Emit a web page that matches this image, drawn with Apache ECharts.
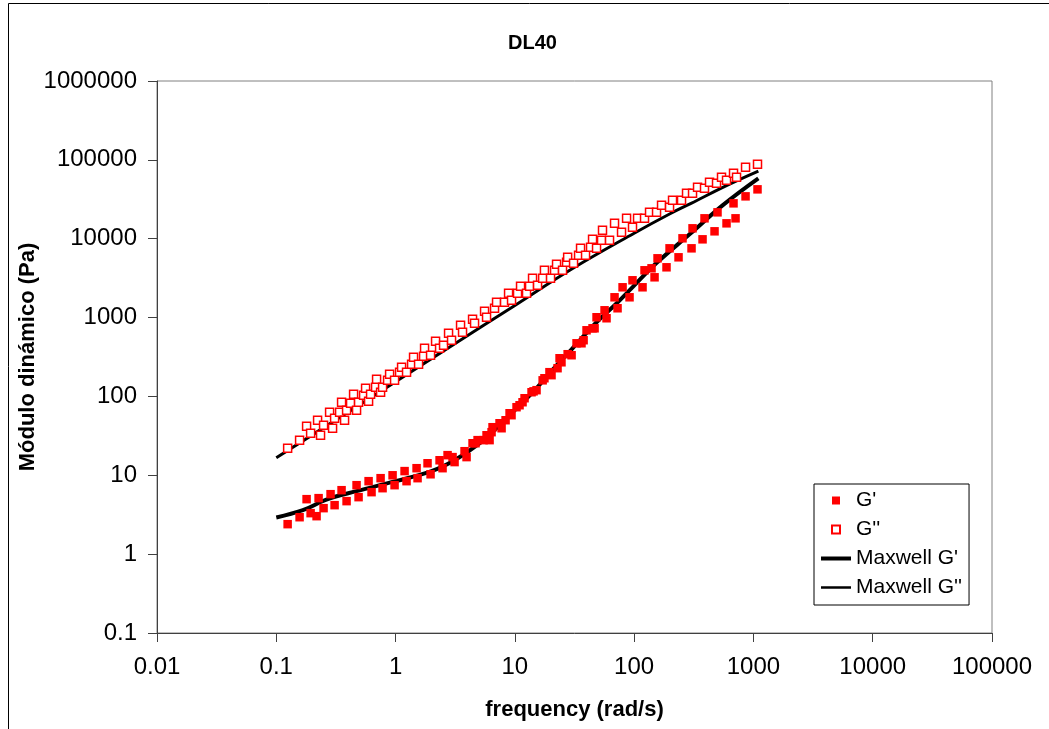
<!DOCTYPE html>
<html>
<head>
<meta charset="utf-8">
<script src="https://cdn.jsdelivr.net/npm/echarts@6/dist/echarts.min.js"></script>
<style>
  html, body { margin: 0; padding: 0; background: #ffffff; }
  #chart { width: 1049px; height: 729px; }
</style>
</head>
<body>
<div id="chart"></div>
<script>
// Storage modulus G' (rad/s, Pa)
const gPrime = [
  [0.1245,2.40],[0.1568,2.94],[0.1795,4.98],[0.194,3.31],[0.2177,3.03],[0.2263,5.13],
  [0.2491,3.83],[0.2851,5.76],[0.3082,4.18],[0.3526,6.47],[0.3884,4.70],[0.471,7.49],
  [0.4896,5.28],[0.594,8.42],[0.629,6.11],[0.749,9.19],[0.778,6.86],[0.944,10.0],
  [0.981,7.49],[1.19,11.3],[1.236,8.42],[1.50,12.3],[1.529,9.19],[1.854,14.2],
  [1.965,10.3],[2.338,15.5],[2.477,12.3],[2.729,18.0],[3.004,17.0],[3.123,14.7],
  [3.787,20.2],[3.937,17.0],[4.42,25.5],[4.68,25.5],[4.87,27.9],[5.47,27.9],
  [5.79,32.2],[6.14,27.9],[6.38,35.2],[6.50,40.7],[7.44,45.7],[7.74,39.5],
  [8.36,49.9],[9.03,61.2],[9.38,57.8],[10.33,73.0],[10.95,77.3],[11.6,84.4],
  [12.06,94.9],[13.8,113],[14.35,116],[15.2,120],[17.1,160],[17.7,170],
  [19.5,203],[20.3,186],[22.8,228],[23.7,305],[24.6,271],[27.7,343],
  [29.9,333],[32.9,472],[36.2,472],[37.7,516],[39.9,690],[44.8,731],
  [46.6,731],[48.4,1009],[56.5,1237],[58.7,980],[68.5,1808],[72.6,1312],
  [80.0,2421],[91.5,1808],[96.9,2970],[117.6,2421],[122.2,3977],[139.9,4214],
  [148.3,3241],[157.1,5642],[186.8,4340],[198.1,7552],[235.6,5810],[254.4,10116],
  [302.8,7552],[308.7,13545],[374.5,9824],[389,18137],[472,12410],[500,21600],
  [595,15670],[681,28090],[708,18137],[859,34450],[1082,42270]
];

// Loss modulus G'' (rad/s, Pa)
const gDoublePrime = [
  [0.1245,22.1],[0.1568,27.9],[0.1795,41.9],[0.194,34.2],[0.2219,49.9],[0.235,32.2],
  [0.2491,43.2],[0.2798,63.1],[0.2964,39.5],[0.3082,52.9],[0.3394,63.1],[0.3526,84.4],
  [0.3737,49.9],[0.3884,66.8],[0.4195,82.0],[0.4446,106.6],[0.471,66.8],[0.4896,84.4],
  [0.5393,103.6],[0.5605,127],[0.594,86.9],[0.6173,106.6],[0.6797,130.8],[0.693,165.2],
  [0.749,113],[0.778,130.8],[0.857,160.4],[0.891,191],[0.981,160.4],[1.080,202.6],
  [1.123,234.5],[1.236,202.6],[1.362,255.9],[1.415,314],[1.559,255.9],[1.717,323],
  [1.750,408],[1.965,333],[2.164,501],[2.338,408],[2.525,446],[2.781,632],
  [2.947,516],[3.506,799],[3.643,651],[4.42,952],[4.594,847],[5.572,1202],
  [5.79,1009],[6.758,1312],[7.023,1562],[8.196,1562],[8.856,2032],[9.38,1656],
  [10.53,2032],[11.16,2493],[12.53,2032],[13.28,2493],[14.07,3148],[15.50,2567],
  [17.1,3148],[17.7,3977],[19.92,3148],[21.51,3977],[22.36,4738],[25.10,3977],
  [27.13,5021],[27.7,5810],[31.05,4877],[34.2,6160],[35.54,7552],[39.14,6160],
  [43.1,7780],[44.8,9824],[48.4,7552],[53.3,9541],[54.3,12780],[62.2,9541],
  [68.5,15670],[78.4,12050],[86.4,18137],[96.9,13950],[106.8,18137],[122.2,18137],
  [134.6,21600],[154.1,21600],[169.7,26500],[198.1,25000],[209.8,30670],[249.6,30670],
  [274.9,37610],[308.7,37610],[340,44810],[389,43520],[428.5,51840],[490.5,50370],
  [540.1,60000],[595,54980],[681,67430],[721.8,60000],[859,80300],[1082,87690]
];

// Maxwell model fits
const maxwellGPrime = [
  [0.1,2.92],[0.167,3.61],[0.263,4.91],[0.471,6.29],[1,8.42],[2,11.27],
  [3.12,15.5],[4.95,24.8],[7.0,39.5],[9.96,66.8],[14.9,123],[19.9,203],
  [29.9,396],[48.4,872],[70,1474],[98.5,2490],[153,4877],[298,11710],
  [551,26500],[1100,58290]
];
const maxwellGDoublePrime = [
  [0.1,16.7],[0.3,47.9],[1,154],[3,447],[10,1423],[30,4130],
  [100,11740],[200,20740],[300,28090],[600,47500],[1100,72100]
];

const xTickLabels = ['0.01','0.1','1','10','100','1000','10000','100000'];
const yTickLabels = ['0.1','1','10','100','1000','10000','100000','1000000'];
const seriesNames = ["G'", "G''", "Maxwell G'", "Maxwell G''"];

const FONT = "'Liberation Sans', Arial, sans-serif";
const xMinExp = -2, yMinExp = -1;
const SQUARE_ICON = 'path://M0,0L10,0L10,10L0,10Z';
const HIDDEN = 'rgba(0,0,0,0)';

const chart = echarts.init(document.getElementById('chart'), null, { renderer: 'canvas' });

chart.setOption({
  animation: false,
  backgroundColor: '#ffffff',
  textStyle: { fontFamily: FONT },
  graphic: [{
    type: 'rect',
    shape: { x: 8.5, y: 3.5, width: 1200, height: 900 },
    style: { fill: 'none', stroke: '#000000', lineWidth: 1 },
    silent: true,
    z: -10
  }],
  title: {
    text: 'DL40',
    left: 503,
    top: 28,
    textStyle: { fontFamily: FONT, fontSize: 20, fontWeight: 'bold', color: '#000' }
  },
  grid: {
    left: 157, right: 57, top: 81, bottom: 96,
    show: true, borderColor: '#808080', borderWidth: 1, backgroundColor: 'transparent'
  },
  legend: {
    orient: 'vertical',
    left: 814, top: 484,
    padding: [6, 7, 7, 5],
    itemGap: 8,
    itemWidth: 30,
    itemHeight: 8,
    symbolKeepAspect: true,
    borderColor: '#000', borderWidth: 1,
    backgroundColor: '#fff',
    data: [
      { name: seriesNames[0], icon: SQUARE_ICON },
      { name: seriesNames[1], icon: SQUARE_ICON },
      { name: seriesNames[2], itemStyle: { color: HIDDEN, borderColor: HIDDEN, borderWidth: 0 },
        lineStyle: { color: '#000', width: 4 } },
      { name: seriesNames[3], itemStyle: { color: HIDDEN, borderColor: HIDDEN, borderWidth: 0 },
        lineStyle: { color: '#000', width: 2.5 } }
    ],
    textStyle: { fontFamily: FONT, fontSize: 21, color: '#000' }
  },
  xAxis: {
    type: 'log', logBase: 10, min: 0.01, max: 100000, splitNumber: 7,
    name: 'frequency (rad/s)', nameLocation: 'middle', nameGap: 66,
    nameMoveOverlap: false,
    nameTextStyle: { fontFamily: FONT, fontSize: 22, fontWeight: 'bold', color: '#000' },
    axisLine: { lineStyle: { color: '#404040', width: 1 } },
    axisTick: { length: 9, lineStyle: { color: '#404040' } },
    minorTick: { show: false },
    splitLine: { show: false },
    axisLabel: {
      margin: 22, fontSize: 24, color: '#000', fontFamily: FONT,
      formatter: v => xTickLabels[Math.round(Math.log10(v)) - xMinExp]
    }
  },
  yAxis: {
    type: 'log', logBase: 10, min: 0.1, max: 1000000, splitNumber: 7,
    name: 'Módulo dinámico (Pa)', nameLocation: 'middle', nameGap: 118,
    nameMoveOverlap: false,
    nameTextStyle: { fontFamily: FONT, fontSize: 22, fontWeight: 'bold', color: '#000' },
    axisLine: { lineStyle: { color: '#404040', width: 1 } },
    axisTick: { length: 9, lineStyle: { color: '#404040' } },
    minorTick: { show: false },
    splitLine: { show: false },
    axisLabel: {
      margin: 20, fontSize: 24, color: '#000', fontFamily: FONT,
      formatter: v => yTickLabels[Math.round(Math.log10(v)) - yMinExp]
    }
  },
  series: [
    {
      name: seriesNames[0], type: 'scatter', data: gPrime,
      symbol: 'rect', symbolSize: 8.5,
      itemStyle: { color: '#ff0000', opacity: 1 },
      emphasis: { disabled: true }, z: 3
    },
    {
      name: seriesNames[1], type: 'scatter', data: gDoublePrime,
      symbol: 'rect', symbolSize: 8,
      itemStyle: { color: '#ffffff', borderColor: '#ff0000', borderWidth: 1.5, opacity: 1 },
      emphasis: { disabled: true }, z: 3
    },
    {
      name: seriesNames[2], type: 'line', data: maxwellGPrime,
      showSymbol: false, symbol: 'none', smooth: 0.4,
      lineStyle: { color: '#000', width: 4 },
      itemStyle: { color: '#000' },
      emphasis: { disabled: true }, z: 2
    },
    {
      name: seriesNames[3], type: 'line', data: maxwellGDoublePrime,
      showSymbol: false, symbol: 'none', smooth: 0.4,
      lineStyle: { color: '#000', width: 3 },
      itemStyle: { color: '#000' },
      emphasis: { disabled: true }, z: 2
    }
  ]
});
</script>
</body>
</html>
